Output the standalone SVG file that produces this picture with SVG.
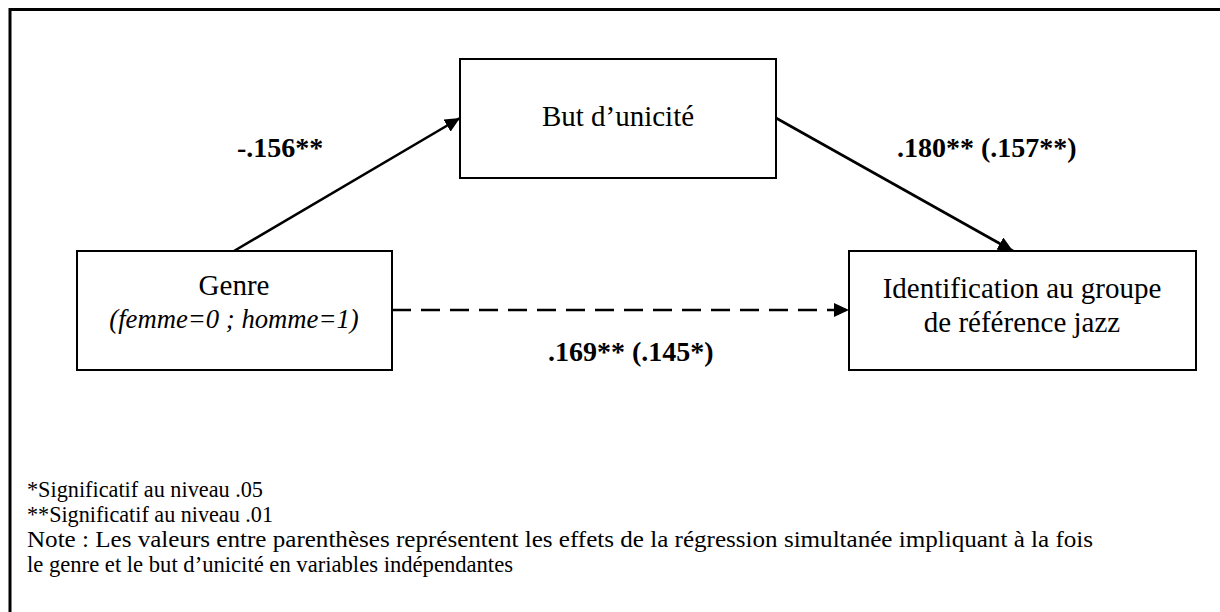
<svg xmlns="http://www.w3.org/2000/svg" width="1220" height="612" viewBox="0 0 1220 612">
<style>
text{font-family:"Liberation Serif","Times New Roman",serif;fill:#000}
.node rect{fill:#fff;stroke:#000;stroke-width:2}
.lbl{font-size:29px;text-anchor:middle}
.coef{font-size:28px;font-weight:bold}
.note{font-size:24px}
.conn{stroke:#000;stroke-width:2.6;fill:none}
</style>
<defs>
<marker id="ah" markerUnits="userSpaceOnUse" markerWidth="16" markerHeight="14" refX="15" refY="7" orient="auto">
<path d="M0,0 L15,7 L0,14 z" fill="#000"/>
</marker>
</defs>
<rect x="0" y="0" width="1220" height="612" fill="#fff"/>
<rect x="10" y="9.5" width="1230" height="620" fill="none" stroke="#000" stroke-width="3"/>
<g id="connectors">
<line class="conn" x1="234" y1="251" x2="460" y2="118" marker-end="url(#ah)"/>
<line class="conn" x1="776" y1="118" x2="1013" y2="251" marker-end="url(#ah)"/>
<line class="conn" x1="392" y1="310" x2="849" y2="310" stroke-dasharray="19 10" stroke-width="3" marker-end="url(#ah)"/>
</g>
<g id="node-but" class="node">
<rect x="460" y="59" width="316" height="119"/>
<text class="lbl" x="618" y="126">But d’unicité</text>
</g>
<g id="node-genre" class="node">
<rect x="77" y="251" width="315" height="119"/>
<text class="lbl" x="234" y="295">Genre</text>
<text x="234" y="328" font-size="26.7" font-style="italic" text-anchor="middle">(femme=0 ; homme=1)</text>
</g>
<g id="node-ident" class="node">
<rect x="849" y="251" width="347" height="119"/>
<text class="lbl" x="1022" y="298">Identification au groupe</text>
<text class="lbl" x="1022" y="332">de référence jazz</text>
</g>
<g id="labels">
<text class="coef" x="237" y="157">-.156**</text>
<text class="coef" x="897" y="157">.180** (.157**)</text>
<text class="coef" x="548" y="361">.169** (.145*)</text>
</g>
<g id="notes">
<text class="note" x="27" y="497" textLength="236" lengthAdjust="spacingAndGlyphs">*Significatif au niveau .05</text>
<text class="note" x="27" y="522" textLength="246" lengthAdjust="spacingAndGlyphs">**Significatif au niveau .01</text>
<text class="note" x="27" y="547" textLength="1066" lengthAdjust="spacingAndGlyphs">Note : Les valeurs entre parenthèses représentent les effets de la régression simultanée impliquant à la fois</text>
<text class="note" x="27" y="572" textLength="486" lengthAdjust="spacingAndGlyphs">le genre et le but d’unicité en variables indépendantes</text>
</g>
</svg>
